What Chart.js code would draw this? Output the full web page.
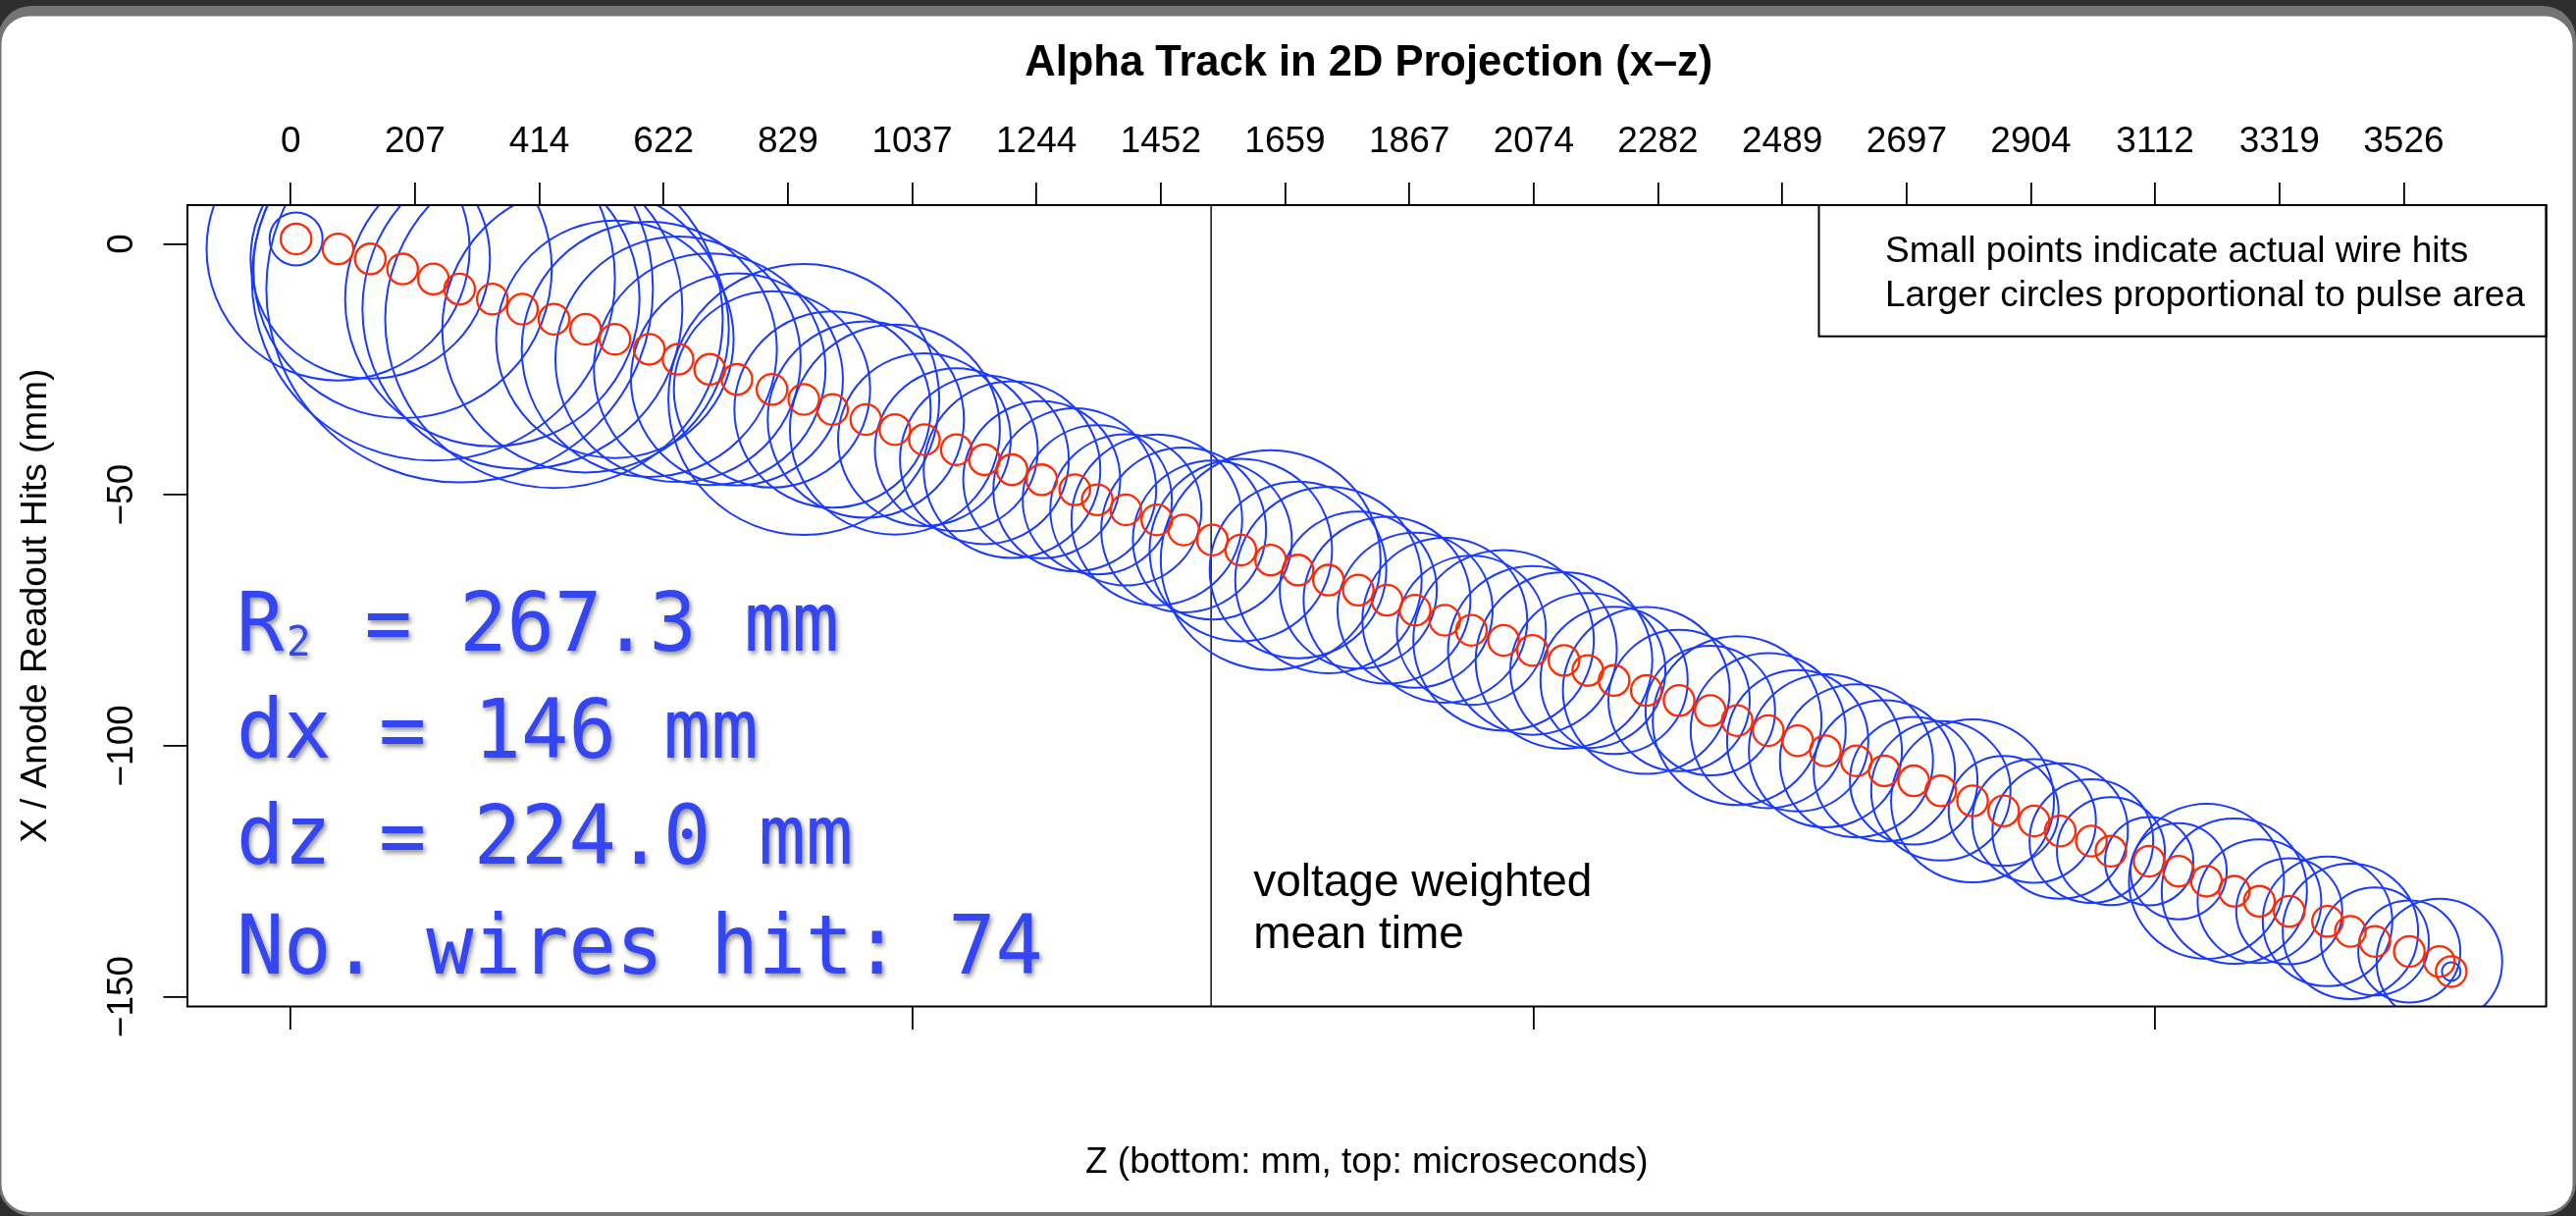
<!DOCTYPE html>
<html>
<head>
<meta charset="utf-8">
<title>Alpha Track in 2D Projection (x-z)</title>
<script src="https://cdn.jsdelivr.net/npm/chart.js@4.4.1/dist/chart.umd.min.js"></script>
<style>
  html, body { margin: 0; padding: 0; background: #2f2f2f; overflow: hidden; }
  canvas { display: block; }
</style>
</head>
<body>
<canvas id="track" width="2625" height="1239"></canvas>
<script>
// ---------------- event data ----------------
// Drift coordinate Z (mm) of each wire hit, in wire order.
const hitZ = [
  0.43, 3.81, 6.40, 9.00, 11.48, 13.59, 16.22, 18.64, 21.18, 23.72,
  26.08, 28.85, 31.16, 33.71, 35.90, 38.72, 41.28, 43.59, 46.27, 48.61,
  50.98, 53.55, 55.81, 58.03, 60.42, 63.08, 64.89, 67.19, 69.68, 71.84,
  74.15, 76.44, 78.84, 81.04, 83.49, 85.89, 88.20, 90.46, 92.85, 94.99,
  97.58, 99.90, 102.44, 104.36, 106.47, 109.06, 111.70, 114.21, 116.37, 118.87,
  121.24, 123.47, 125.97, 128.21, 130.58, 132.76, 135.31, 137.81, 140.26, 142.36,
  144.87, 146.44, 149.52, 151.89, 154.13, 156.37, 158.39, 160.79, 163.87, 165.71,
  167.68, 170.45, 172.87, 173.82
];

// Anode wire position X (mm) of each hit.
const hitX = [
  1, -1, -3, -5, -7, -9, -11, -13, -15, -17,
  -19, -21, -23, -25, -27, -29, -31, -33, -35, -37,
  -39, -41, -43, -45, -47, -49, -51, -53, -55, -57,
  -59, -61, -63, -65, -67, -69, -71, -73, -75, -77,
  -79, -81, -83, -85, -87, -89, -91, -93, -95, -97,
  -99, -101, -103, -105, -107, -109, -111, -113, -115, -117,
  -119, -121, -123, -125, -127, -129, -131, -133, -135, -137,
  -139, -141, -143, -145
];

// Circle radius (px) proportional to the pulse area on each wire.
const pulseRadius = [
  27, 134, 122, 152, 185, 197, 150, 163, 172, 146,
  121, 130, 125, 118, 108, 100, 138, 100, 100, 107,
  88, 83, 86, 90, 80, 83, 76, 77, 87, 84,
  81, 93, 112, 90, 95, 80, 85, 79, 84, 76,
  92, 86, 90, 79, 75, 85, 72, 66, 86, 79,
  72, 78, 78, 72, 65, 71, 83, 56, 63, 69,
  63, 55, 45, 49, 79, 74, 63, 54, 66, 69,
  55, 52, 64, 9.5
];

// Voltage weighted mean time, expressed on the Z axis (mm).
const meanTimeZ = 74.05;

// Track summary numbers.
const rangeR2 = '267.3';
const extentDx = '146';
const extentDz = '224.0';
const wiresHit = '74';

// Axis ticks.
const bottomTickPos = [0, 50, 100, 150];
const topTickPos = [0, 10, 20, 30, 40, 50, 60, 70, 80, 90, 100, 110, 120, 130, 140, 150, 160, 170];
const topTickLabels = ['0', '207', '414', '622', '829', '1037', '1244', '1452', '1659',
                       '1867', '2074', '2282', '2489', '2697', '2904', '3112', '3319', '3526'];
const yTickPos = [-150, -100, -50, 0];
const yTickLabels = ['\u2212150', '\u2212100', '\u221250', '0'];

// ---------------- layout & style ----------------
const W = 2625, H = 1239;
const BOX = { left: 191, top: 209, right: 2594.6, bottom: 1025.5 };
const X_MIN = -8.31, X_MAX = 181.46;
const Y_MIN = -151.96, Y_MAX = 7.73;
const SANS = '"Liberation Sans", Arial, Helvetica, sans-serif';
const MONO = '"DejaVu Sans Mono", monospace';
const RED = '#ff2a05';
const BLUE = '#1a3aff';
const STAT_BLUE = '#3445f4';

function roundedRect(ctx, x, y, w, h, r) {
  ctx.beginPath();
  ctx.moveTo(x + r, y);
  ctx.lineTo(x + w - r, y);
  ctx.arcTo(x + w, y, x + w, y + r, r);
  ctx.lineTo(x + w, y + h - r);
  ctx.arcTo(x + w, y + h, x + w - r, y + h, r);
  ctx.lineTo(x + r, y + h);
  ctx.arcTo(x, y + h, x, y + h - r, r);
  ctx.lineTo(x, y + r);
  ctx.arcTo(x, y, x + r, y, r);
  ctx.closePath();
}

// Keep the plot region fixed: no extra room for edge tick labels.
function noPad(s) {
  s.paddingLeft = 0; s.paddingRight = 0; s.paddingTop = 0; s.paddingBottom = 0;
}

// Window frame behind the plot.
const framePlugin = {
  id: 'frame',
  beforeDraw(chart) {
    const ctx = chart.ctx;
    ctx.save();
    ctx.fillStyle = '#2e2e2e';
    ctx.fillRect(0, 0, W, H);
    ctx.fillStyle = '#747474';
    roundedRect(ctx, -2, 6, W + 2, H - 6, 34);
    ctx.fill();
    ctx.fillStyle = '#ffffff';
    roundedRect(ctx, 1.5, 16.5, W - 5, H - 20.5, 28);
    ctx.fill();
    ctx.restore();
  }
};

// Plot box, titles, legend box and annotations.
const decorPlugin = {
  id: 'decor',
  afterDraw(chart) {
    const ctx = chart.ctx;
    const a = chart.chartArea;
    const xs = chart.scales.x, ys = chart.scales.y;
    const cx = (a.left + a.right) / 2;
    ctx.save();

    // plot box
    ctx.strokeStyle = '#000';
    ctx.lineWidth = 2;
    ctx.strokeRect(a.left, a.top, a.right - a.left, a.bottom - a.top);

    // main title
    ctx.fillStyle = '#000';
    ctx.textAlign = 'center';
    ctx.textBaseline = 'alphabetic';
    ctx.font = 'bold 43.5px ' + SANS;
    ctx.fillText('Alpha Track in 2D Projection (x\u2013z)', cx + 2, 76.7);

    // x axis title
    ctx.font = '37px ' + SANS;
    ctx.fillText('Z (bottom: mm, top: microseconds)', cx, 1195);

    // y axis title
    ctx.save();
    ctx.translate(47, (a.top + a.bottom) / 2);
    ctx.rotate(-Math.PI / 2);
    ctx.fillText('X / Anode Readout Hits (mm)', 0, 0);
    ctx.restore();

    // legend box (top right)
    ctx.lineWidth = 2;
    ctx.strokeRect(1853.5, a.top, a.right - 1853.5, 342.7 - a.top);
    ctx.textAlign = 'left';
    ctx.font = '37px ' + SANS;
    ctx.fillText('Small points indicate actual wire hits', 1921, 266.7);
    ctx.fillText('Larger circles proportional to pulse area', 1921, 311.7);

    // mean time annotation
    ctx.font = '46px ' + SANS;
    const mx = xs.getPixelForValue(meanTimeZ) + 43;
    ctx.fillText('voltage weighted', mx, ys.getPixelForValue(-129.9));
    ctx.fillText('mean time', mx, ys.getPixelForValue(-140.4));

    // track summary
    ctx.fillStyle = STAT_BLUE;
    ctx.shadowColor = 'rgba(0,0,0,0.45)';
    ctx.shadowBlur = 5;
    ctx.shadowOffsetX = 2;
    ctx.shadowOffsetY = 3;
    const mono = (txt, x, y, size) => {
      ctx.save();
      ctx.translate(x, y);
      ctx.scale(1, 1.05);
      ctx.font = size + 'px ' + MONO;
      ctx.fillText(txt, 0, 0);
      ctx.restore();
    };
    const left = a.left + 50;
    mono('R', left, 662.5, 80.3);
    mono('2', left + 51, 668, 41);
    mono(' = ' + rangeR2 + ' mm', left + 82.2, 662.5, 80.3);
    mono('dx = ' + extentDx + ' mm', left, 772, 80.3);
    mono('dz = ' + extentDz + ' mm', left, 879.5, 80.3);
    mono('No. wires hit: ' + wiresHit, left, 991.5, 80.3);

    ctx.restore();
  }
};

const hitPoints = hitZ.map((z, i) => ({ x: z, y: hitX[i] }));
const pulsePoints = hitZ.map((z, i) => ({ x: z, y: hitX[i], r: pulseRadius[i] }));

new Chart(document.getElementById('track'), {
  type: 'bubble',
  data: {
    datasets: [
      {
        type: 'scatter',
        label: 'wire hits',
        data: hitPoints,
        showLine: false,
        pointRadius: 15.6,
        pointHoverRadius: 15.6,
        pointBorderWidth: 2.3,
        pointBorderColor: RED,
        pointBackgroundColor: 'rgba(0,0,0,0)',
        clip: 0,
        order: 0
      },
      {
        type: 'bubble',
        label: 'pulse area',
        data: pulsePoints,
        borderColor: BLUE,
        backgroundColor: 'rgba(0,0,0,0)',
        borderWidth: 2,
        hoverRadius: 0,
        hoverBorderWidth: 2,
        clip: 0,
        order: 1
      },
      {
        type: 'line',
        label: 'voltage weighted mean time',
        data: [{ x: meanTimeZ, y: Y_MIN }, { x: meanTimeZ, y: Y_MAX }],
        borderColor: '#222',
        borderWidth: 1.6,
        pointRadius: 0,
        fill: false,
        clip: 0,
        order: 2
      }
    ]
  },
  options: {
    responsive: false,
    devicePixelRatio: 1,
    animation: false,
    events: [],
    layout: {
      autoPadding: false,
      padding: { left: 0, top: 0, right: W - BOX.right, bottom: 0 }
    },
    plugins: {
      legend: { display: false },
      tooltip: { enabled: false },
      title: { display: false }
    },
    scales: {
      x: {
        type: 'linear',
        position: 'bottom',
        min: X_MIN,
        max: X_MAX,
        afterBuildTicks: s => { s.ticks = bottomTickPos.map(v => ({ value: v })); },
        ticks: { display: false },
        grid: { drawOnChartArea: false, drawTicks: true, tickLength: 23.5, color: '#000', lineWidth: 1.8 },
        border: { display: false },
        afterFit: s => { s.height = H - BOX.bottom; noPad(s); }
      },
      x2: {
        type: 'linear',
        position: 'top',
        min: X_MIN,
        max: X_MAX,
        afterBuildTicks: s => { s.ticks = topTickPos.map(v => ({ value: v })); },
        ticks: {
          autoSkip: false,
          minRotation: 0,
          maxRotation: 0,
          padding: 19.5,
          color: '#000',
          font: { family: SANS, size: 37 },
          callback: (v, i) => topTickLabels[i]
        },
        grid: { drawOnChartArea: false, drawTicks: true, tickLength: 23, color: '#000', lineWidth: 1.8 },
        border: { display: false },
        afterFit: s => { s.height = BOX.top; noPad(s); }
      },
      y: {
        type: 'linear',
        position: 'left',
        min: Y_MIN,
        max: Y_MAX,
        afterBuildTicks: s => { s.ticks = yTickPos.map(v => ({ value: v })); },
        ticks: {
          autoSkip: false,
          minRotation: 90,
          maxRotation: 90,
          crossAlign: 'center',
          padding: 0,
          color: '#000',
          font: { family: SANS, size: 37 },
          callback: (v, i) => yTickLabels[i]
        },
        grid: { drawOnChartArea: false, drawTicks: true, tickLength: 24.5, color: '#000', lineWidth: 1.8 },
        border: { display: false },
        afterFit: s => { s.width = BOX.left; noPad(s); }
      }
    }
  },
  plugins: [framePlugin, decorPlugin]
});
</script>
</body>
</html>
